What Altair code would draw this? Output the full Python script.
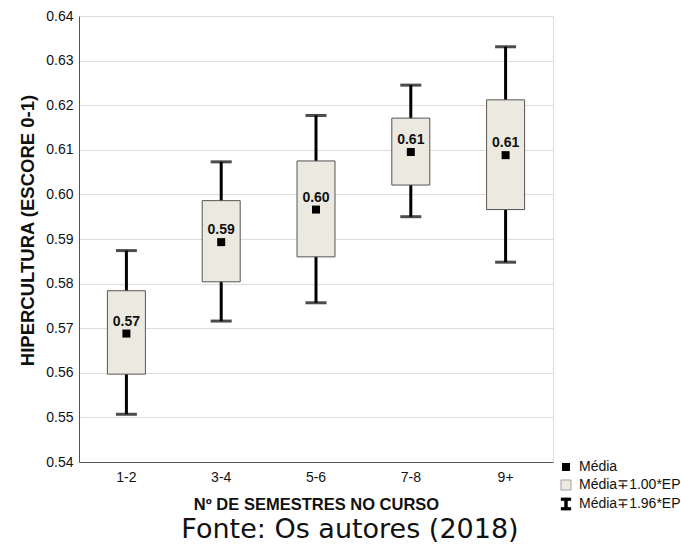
import altair as alt
import pandas as pd

categories = ["1-2", "3-4", "5-6", "7-8", "9+"]
means = [0.5688, 0.5893, 0.5966, 0.6095, 0.6088]
box_lo = [0.5597, 0.5804, 0.5860, 0.6021, 0.5966]
box_hi = [0.5784, 0.5986, 0.6075, 0.6171, 0.6212]
wh_lo = [0.5507, 0.5716, 0.5757, 0.5950, 0.5848]
wh_hi = [0.5874, 0.6073, 0.6177, 0.6245, 0.6331]
legend_labels = ["Média", "Média\u22131.00*EP", "Média\u22131.96*EP"]
y_ticks = [0.54, 0.55, 0.56, 0.57, 0.58, 0.59, 0.60, 0.61, 0.62, 0.63, 0.64]

df = pd.DataFrame({
    "cat": categories, "mean": means, "blo": box_lo, "bhi": box_hi,
    "wlo": wh_lo, "whi": wh_hi, "leg": [legend_labels[0]] * len(categories),
})

FONT = "Liberation Sans"
BOX_FILL = "#ECEAE0"
IBEAM = "M-0.8,-1H0.8V-0.62H0.2V0.62H0.8V1H-0.8V0.62H-0.2V-0.62H-0.8Z"

x = alt.X("cat:N", sort=categories, scale=alt.Scale(paddingInner=0, paddingOuter=0),
          axis=alt.Axis(title="Nº DE SEMESTRES NO CURSO", labelAngle=0, labelFontSize=14,
                        labelPadding=8, ticks=False, titleFontSize=16.5, titleFontWeight="bold",
                        titlePadding=12, domainColor="#555", labelColor="#111", titleColor="#111"))
yscale = alt.Scale(domain=[0.54, 0.64], nice=False, zero=False)
yaxis = alt.Axis(title="HIPERCULTURA (ESCORE 0-1)", values=y_ticks, format=".2f", labelFontSize=14,
                 labelPadding=6, ticks=False, titleFontSize=18.5, titleFontWeight="bold",
                 titlePadding=8, titleY=214, gridColor="#dddddd", domainColor="#555",
                 labelColor="#111", titleColor="#111")

base = alt.Chart(df).encode(x=x)

whisk = base.mark_rule(color="black", strokeWidth=3).encode(
    y=alt.Y("wlo:Q", scale=yscale, axis=yaxis), y2="whi:Q")
cap_hi = base.mark_tick(color="black", size=21, thickness=3).encode(y=alt.Y("whi:Q", scale=yscale))
cap_lo = base.mark_tick(color="black", size=21, thickness=3).encode(y=alt.Y("wlo:Q", scale=yscale))
box = base.mark_bar(size=38, fill=BOX_FILL, stroke="#555", strokeWidth=1).encode(
    y=alt.Y("blo:Q", scale=yscale), y2="bhi:Q")

leg = alt.Legend(title=None, orient="none", legendX=480, legendY=444, padding=0,
                 labelFont=FONT, labelFontSize=14, labelColor="#111", rowPadding=4,
                 labelOffset=6, labelLimit=200)
mean_pts = base.mark_point(filled=True, opacity=1).encode(
    y=alt.Y("mean:Q", scale=yscale),
    shape=alt.Shape("leg:N", scale=alt.Scale(domain=legend_labels, range=["square", "square", IBEAM]), legend=leg),
    fill=alt.Fill("leg:N", scale=alt.Scale(domain=legend_labels, range=["#000000", BOX_FILL, "#000000"]), legend=leg),
    stroke=alt.Stroke("leg:N", scale=alt.Scale(domain=legend_labels, range=["#000000", "#555555", "#000000"]), legend=leg),
    size=alt.Size("leg:N", scale=alt.Scale(domain=legend_labels, range=[64, 140, 150]), legend=leg),
    strokeWidth=alt.StrokeWidth("leg:N", scale=alt.Scale(domain=legend_labels, range=[0, 1, 0]), legend=leg),
)
labels = base.mark_text(font=FONT, fontSize=14, fontWeight="bold", color="#111", dy=-12).encode(
    y=alt.Y("mean:Q", scale=yscale), text=alt.Text("mean:Q", format=".2f"))

chart = alt.layer(whisk, cap_hi, cap_lo, box, mean_pts, labels).properties(
    width=474, height=446,
    autosize=alt.AutoSizeParams(type="none"),
    padding={"left": 79, "top": 16, "right": 128, "bottom": 95},
    title=alt.TitleParams("Fonte: Os autores (2018)", orient="bottom", anchor="middle",
                          font="DejaVu Sans", fontSize=27, fontWeight="normal", color="#111",
                          dx=34, offset=4),
).configure_view(stroke="#555", strokeWidth=1).configure_axis(
    labelFont=FONT, titleFont=FONT
).configure(background="white")

chart.save("out.html", embed_options={"renderer": "svg", "actions": False})
